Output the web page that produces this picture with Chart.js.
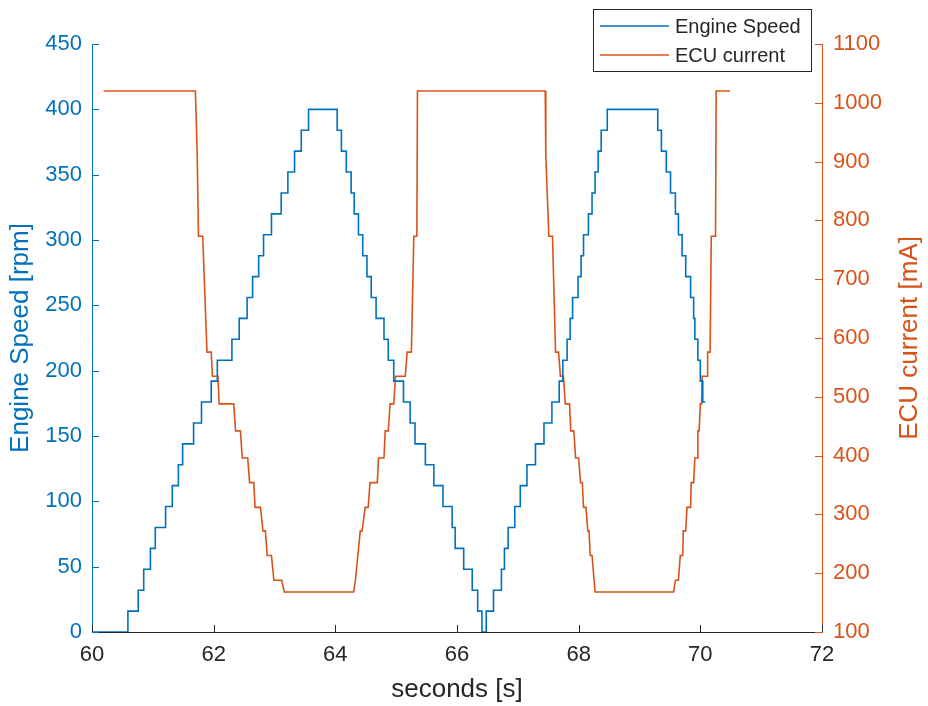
<!DOCTYPE html>
<html>
<head>
<meta charset="utf-8">
<script src="https://cdn.jsdelivr.net/npm/chart.js@4.4.1/dist/chart.umd.min.js"></script>
<style>
  html, body { margin: 0; padding: 0; background: #ffffff; }
  #wrap { width: 928px; height: 706px; position: relative; }
</style>
</head>
<body>
<div id="wrap"><canvas id="c" width="928" height="706"></canvas></div>
<script>
// ---- data ----
const speedLabel = 'Engine Speed';
const currentLabel = 'ECU current';
const xTicks = [60, 62, 64, 66, 68, 70, 72];
const speedTicks = [0, 50, 100, 150, 200, 250, 300, 350, 400, 450];
const currentTicks = [100, 200, 300, 400, 500, 600, 700, 800, 900, 1000, 1100];

// engine speed: time at which each new level starts, and that level (rpm)
const speedTime = [60.00, 60.59, 60.76, 60.85, 60.96, 61.04, 61.21, 61.32, 61.42, 61.49, 61.67, 61.80, 61.96, 62.06,
  62.30, 62.42, 62.55, 62.64, 62.74, 62.82, 62.95, 63.11, 63.22, 63.33, 63.44, 63.56,
  64.03, 64.10, 64.18, 64.26, 64.31, 64.38, 64.45, 64.52, 64.59, 64.67, 64.80, 64.87, 64.96,
  65.12, 65.23, 65.31, 65.48, 65.62, 65.77, 65.92, 65.97, 66.11, 66.25, 66.34, 66.41, 66.48,
  66.60, 66.73, 66.78, 66.84, 66.95, 67.04, 67.15, 67.29, 67.43, 67.56, 67.68, 67.74, 67.81,
  67.86, 67.90, 67.99, 68.04, 68.08, 68.16, 68.22, 68.27, 68.32, 68.37, 68.47,
  69.30, 69.36, 69.44, 69.51, 69.59, 69.64, 69.70, 69.76, 69.84, 69.89, 69.91, 69.96, 70.00, 70.04, 70.08];
const speedValue = [0, 16, 32, 48, 64, 80, 96, 112, 128, 144, 160, 176, 192, 208,
  224, 240, 256, 272, 288, 304, 320, 336, 352, 368, 384, 400,
  384, 368, 352, 336, 320, 304, 288, 272, 256, 240, 224, 208, 192,
  176, 160, 144, 128, 112, 96, 80, 64, 48, 32, 16, 0, 16,
  32, 48, 64, 80, 96, 112, 128, 144, 160, 176, 192, 208, 224,
  240, 256, 272, 288, 304, 320, 336, 352, 368, 384, 400,
  384, 368, 352, 336, 320, 304, 288, 272, 256, 240, 224, 208, 192, 176, 176];

// ECU current: corner points of the trace (s, mA)
const currentTime = [60.19, 61.70, 61.73, 61.75, 61.82, 61.89, 61.96, 61.98, 62.07, 62.09, 62.33, 62.36, 62.44, 62.47,
  62.56, 62.59, 62.66, 62.68, 62.77, 62.81, 62.85, 62.88, 62.95, 62.99, 63.12, 63.16,
  64.30, 64.33, 64.37, 64.41, 64.44, 64.49, 64.54, 64.57, 64.69, 64.71, 64.80, 64.82, 64.87, 64.90, 64.96,
  64.99, 65.15, 65.18, 65.25, 65.29, 65.34, 65.35,
  67.45, 67.46, 67.51, 67.57, 67.62, 67.67, 67.70, 67.75, 67.78, 67.85, 67.87, 67.92, 67.95, 68.00,
  68.03, 68.06, 68.08, 68.12, 68.15, 68.17, 68.19, 68.22, 68.27,
  69.56, 69.59, 69.64, 69.67, 69.71, 69.72, 69.76, 69.78, 69.84, 69.85, 69.89, 69.91, 69.95, 69.96, 69.98,
  70.00, 70.02, 70.03, 70.11, 70.12, 70.16, 70.18, 70.25, 70.26, 70.49];
const currentValue = [1020, 1020, 910, 773, 773, 576, 576, 535, 535, 488, 488, 442, 442, 396,
  396, 354, 354, 312, 312, 272, 272, 230, 230, 188, 188, 168,
  168, 188, 230, 272, 272, 312, 312, 354, 354, 396, 396, 442, 442, 488, 488,
  535, 535, 576, 576, 773, 773, 1020,
  1020, 910, 773, 773, 576, 576, 535, 535, 488, 488, 442, 442, 396, 396,
  354, 354, 312, 312, 272, 272, 230, 230, 168,
  168, 188, 188, 230, 230, 272, 272, 312, 312, 354, 354, 396, 396, 442, 442,
  488, 488, 535, 535, 576, 576, 773, 773, 1020, 1020];

// ---- styles ----
const BLUE = '#0072BD';
const ORANGE = '#D95319';
const DARK = '#262626';
const FONT = '"Liberation Sans", Arial, Helvetica, sans-serif';
const TICK_SIZE = 22;
const TITLE_SIZE = 26;

const toPts = (xs, ys) => xs.map((x, i) => ({ x: x, y: ys[i] }));
const plain = v => String(v);

const inwardTicks = {
  id: 'inwardTicks',
  afterDraw(chart) {
    const ctx = chart.ctx;
    const a = chart.chartArea;
    const L = 7;
    ctx.save();
    ctx.lineWidth = 1;
    const sx = chart.scales.x, sy = chart.scales.y, sy1 = chart.scales.y1;
    ctx.strokeStyle = DARK;
    sx.ticks.forEach(t => {
      const p = Math.round(sx.getPixelForValue(t.value)) + 0.5;
      ctx.beginPath(); ctx.moveTo(p, a.bottom); ctx.lineTo(p, a.bottom - L); ctx.stroke();
    });
    ctx.strokeStyle = BLUE;
    sy.ticks.forEach(t => {
      const p = Math.round(sy.getPixelForValue(t.value)) + 0.5;
      ctx.beginPath(); ctx.moveTo(a.left, p); ctx.lineTo(a.left + L, p); ctx.stroke();
    });
    ctx.strokeStyle = ORANGE;
    sy1.ticks.forEach(t => {
      const p = Math.round(sy1.getPixelForValue(t.value)) + 0.5;
      ctx.beginPath(); ctx.moveTo(a.right, p); ctx.lineTo(a.right - L, p); ctx.stroke();
    });
    ctx.restore();
  }
};

const rightTitle = {
  id: 'rightTitle',
  afterDraw(chart) {
    const ctx = chart.ctx;
    const a = chart.chartArea;
    ctx.save();
    ctx.translate(910, (a.top + a.bottom) / 2);
    ctx.rotate(-Math.PI / 2);
    ctx.fillStyle = ORANGE;
    ctx.font = TITLE_SIZE + 'px ' + FONT;
    ctx.textAlign = 'center';
    ctx.textBaseline = 'middle';
    ctx.fillText('ECU current [mA]', 0, 0);
    ctx.restore();
  }
};

const boxLegend = {
  id: 'boxLegend',
  afterDraw(chart) {
    const ctx = chart.ctx;
    ctx.save();
    const x0 = 593.5, y0 = 9.5, w = 218, h = 62;
    ctx.fillStyle = '#ffffff';
    ctx.fillRect(x0, y0, w, h);
    ctx.strokeStyle = DARK;
    ctx.lineWidth = 1;
    ctx.strokeRect(x0, y0, w, h);
    ctx.font = '20px ' + FONT;
    ctx.textBaseline = 'middle';
    ctx.textAlign = 'left';
    const rows = [26, 55];
    chart.data.datasets.forEach((ds, i) => {
      const y = rows[i];
      ctx.strokeStyle = ds.borderColor;
      ctx.lineWidth = 1.6;
      ctx.beginPath(); ctx.moveTo(600, y); ctx.lineTo(669, y); ctx.stroke();
      ctx.fillStyle = DARK;
      ctx.fillText(ds.label, 675, y + 1);
    });
    ctx.restore();
  }
};

new Chart(document.getElementById('c'), {
  type: 'line',
  data: {
    datasets: [
      { label: speedLabel, data: toPts(speedTime, speedValue), yAxisID: 'y', borderColor: BLUE,
        backgroundColor: BLUE, borderWidth: 1.6, pointRadius: 0, stepped: true, fill: false },
      { label: currentLabel, data: toPts(currentTime, currentValue), yAxisID: 'y1', borderColor: ORANGE,
        backgroundColor: ORANGE, borderWidth: 1.6, pointRadius: 0, tension: 0, fill: false }
    ]
  },
  options: {
    responsive: false,
    animation: false,
    devicePixelRatio: 1,
    layout: { padding: { top: 44, left: 0, right: 0, bottom: 0 } },
    plugins: { legend: { display: false }, tooltip: { enabled: false } },
    scales: {
      x: {
        type: 'linear', min: 60, max: 72,
        afterBuildTicks: s => { s.ticks = xTicks.map(v => ({ value: v })); },
        afterFit: s => { s.height = 74; },
        grid: { display: false, drawTicks: false },
        border: { display: true, color: DARK, width: 1 },
        ticks: { color: DARK, font: { size: TICK_SIZE, family: FONT }, padding: 10, maxRotation: 0, autoSkip: false, callback: plain },
        title: { display: true, text: 'seconds [s]', color: DARK, font: { size: TITLE_SIZE, family: FONT }, padding: { top: 0, bottom: 1 } }
      },
      y: {
        type: 'linear', position: 'left', min: 0, max: 450,
        afterBuildTicks: s => { s.ticks = speedTicks.map(v => ({ value: v })); },
        afterFit: s => { s.width = 92; },
        grid: { display: false, drawTicks: false },
        border: { display: true, color: BLUE, width: 1 },
        ticks: { color: BLUE, font: { size: TICK_SIZE, family: FONT }, padding: 10, autoSkip: false, callback: plain },
        title: { display: true, text: 'Engine Speed [rpm]', color: BLUE, font: { size: TITLE_SIZE, family: FONT }, padding: { top: 5, bottom: 0 } }
      },
      y1: {
        type: 'linear', position: 'right', min: 100, max: 1100,
        afterBuildTicks: s => { s.ticks = currentTicks.map(v => ({ value: v })); },
        afterFit: s => { s.width = 106; },
        grid: { display: false, drawTicks: false },
        border: { display: true, color: ORANGE, width: 1 },
        ticks: { color: ORANGE, font: { size: TICK_SIZE, family: FONT }, padding: 11, autoSkip: false, callback: plain }
      }
    }
  },
  plugins: [inwardTicks, rightTitle, boxLegend]
});
</script>
</body>
</html>
